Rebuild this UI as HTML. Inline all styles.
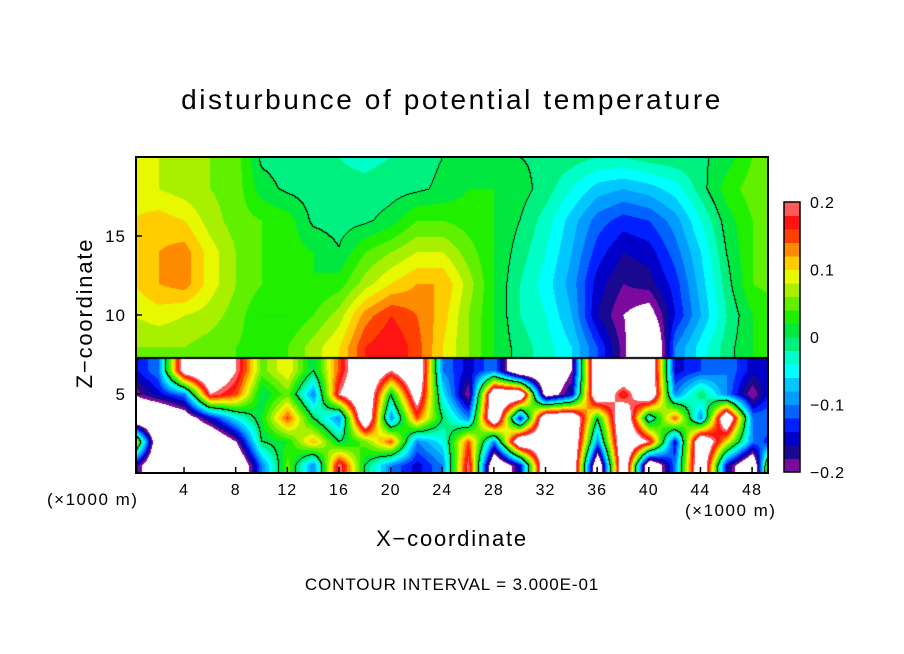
<!DOCTYPE html>
<html><head><meta charset="utf-8">
<style>
body{margin:0;background:#fff;}
#wrap{position:relative;width:904px;height:654px;overflow:hidden;font-family:"Liberation Sans",sans-serif;color:#000;}
.t{position:absolute;white-space:nowrap;}
</style></head>
<body>
<div id="wrap">
<div class="t" style="left:0;width:904px;text-align:center;top:84px;font-size:28px;letter-spacing:2.6px;">disturbunce of potential temperature</div>
<canvas id="cv" width="632" height="316" style="position:absolute;left:136px;top:157px;"></canvas>
<svg id="ov" width="904" height="654" style="position:absolute;left:0;top:0;"></svg>
<div class="t" style="left:47px;top:490px;font-size:17px;letter-spacing:1.5px;">(×1000 m)</div>
<div class="t" style="left:685px;top:501px;font-size:17px;letter-spacing:1.5px;">(×1000 m)</div>
<div class="t" style="left:0;width:904px;text-align:center;top:526px;font-size:22px;letter-spacing:1.8px;">X−coordinate</div>
<div class="t" style="left:85px;top:313px;font-size:22px;letter-spacing:1.8px;transform:translate(-50%,-50%) rotate(-90deg);">Z−coordinate</div>
<div class="t" style="left:0;width:904px;text-align:center;top:575px;font-size:17px;letter-spacing:0.9px;">CONTOUR INTERVAL = 3.000E-01</div>
</div>
<script>
const xCols=[0,2,4,6,8,10,12,14,16,18,20,22,24,26,28,30,32,34,36,38,40,42,44,46,48,50];
const upperZ=[8,10,12,14,16,18,20];
const upperVals=[
[.06,.06,.06,.05,.04,.03,.04,.07,.10,.16,.18,.15,.10,.06,.02,-.01,-.03,-.06,-.12,-.19,-.3,-.10,-.05,-.01,.02,.03],
[.08,.09,.08,.07,.05,.02,.02,.04,.07,.13,.16,.14,.11,.06,.02,-.02,-.04,-.08,-.16,-.20,-.22,-.14,-.08,-.02,.02,.03],
[.10,.12,.13,.09,.06,.04,.03,.02,.03,.07,.10,.12,.12,.07,.02,-.02,-.05,-.09,-.15,-.18,-.17,-.13,-.07,-.01,.04,.05],
[.11,.12,.13,.09,.06,.04,.03,.02,.002,.04,.06,.08,.08,.05,.02,-.01,-.04,-.08,-.13,-.16,-.15,-.11,-.06,.00,.04,.05],
[.10,.11,.10,.07,.05,.04,.03,-.005,-.01,-.005,.01,.04,.04,.03,.02,.00,-.03,-.07,-.11,-.13,-.12,-.09,-.04,.01,.04,.05],
[.09,.08,.07,.06,.05,.01,-.005,-.01,-.015,-.015,-.01,-.005,.005,.02,.02,.01,-.01,-.04,-.07,-.08,-.07,-.05,-.01,.03,.05,.05],
[.09,.08,.07,.06,.05,-.005,-.01,-.015,-.02,-.025,-.02,-.01,.00,.005,.01,.00,-.005,-.01,-.02,-.02,-.01,-.005,-.005,.01,.04,.05]];
const lowerZ=[0.5,2,3.5,5,6.5];
const lowerVals=[
[-.15,-.3,-.3,-.3,-.3,-.1,.05,-.1,.2,0,-.1,-.15,-.1,.2,-.3,-.15,.3,.3,-.3,.3,-.3,-.1,.3,-.15,-.3,.3],
[.15,-.3,-.3,-.3,-.2,0,.02,.12,0,.05,.15,-.1,-.05,.15,-.1,.3,.25,.3,-.1,.3,.2,-.15,.3,.1,-.1,-.15],
[-.3,-.3,-.25,-.15,-.05,.02,.15,0,-.1,.3,-.1,.15,0,-.1,.3,-.15,.3,.3,0,.3,-.05,.15,-.1,.3,-.1,-.1],
[-.2,-.15,-.1,.2,.15,0,.05,-.1,.2,.3,0,.25,-.05,-.2,.3,.3,-.25,-.15,.3,.15,.3,-.1,0,-.1,-.2,-.1],
[-.15,-.1,.25,.3,.2,.05,.1,0,.15,.3,.2,.3,-.1,-.15,-.1,-.3,-.3,-.2,.3,.3,.3,-.15,-.12,-.1,-.15,-.15]];
const xTicks=[4,8,12,16,20,24,28,32,36,40,44,48];
const zTicks=[5,10,15];
const cbTicks=[0.2,0.1,0,-0.1,-0.2];
const cbLabels=["0.2","0.1","0","−0.1","−0.2"];
const palette=["#7a0a9e","#1a0890","#0000c8","#0020ff","#0064ff","#009cff","#00c8ff","#00ffff","#00ffc8","#00f080","#00e840","#20f000","#60f000","#a8f000","#e8f800","#ffcc00","#ff8c00","#ff4000","#ff1414","#ff5a5a"];
palette.push("#ff9a9a");
const X=k=>132.4+k*12.91, Z=z=>473-z*15.8;
const zBoundary=7.28;
function interp(zs,vals,x,z){
  let i=Math.min(Math.max(Math.floor(x/2),0),xCols.length-2);
  let fx=Math.min(Math.max((x-xCols[i])/(xCols[i+1]-xCols[i]),0),1);
  let j=0; while(j<zs.length-2&&z>zs[j+1])j++;
  let fz=Math.min(Math.max((z-zs[j])/(zs[j+1]-zs[j]),0),1);
  const a=vals[j][i]*(1-fx)+vals[j][i+1]*fx, b=vals[j+1][i]*(1-fx)+vals[j+1][i+1]*fx;
  return a*(1-fz)+b*fz;
}
const cv=document.getElementById('cv'),ctx=cv.getContext('2d');
const W=632,H=316,img=ctx.createImageData(W,H);
const V=new Float32Array(W*H);
for(let py=0;py<H;py++)for(let px=0;px<W;px++){
  const x=(px+136-132.4)/12.91, z=(473-(py+157))/15.8;
  V[py*W+px]= z>=zBoundary?interp(upperZ,upperVals,x,z):interp(lowerZ,lowerVals,x,z);
}
const rgb=palette.map(h=>[parseInt(h.substr(1,2),16),parseInt(h.substr(3,2),16),parseInt(h.substr(5,2),16)]);
const bY=Math.round(Z(zBoundary)-157);
for(let py=0;py<H;py++)for(let px=0;px<W;px++){
  const v=V[py*W+px];let c=[255,255,255];
  const idx=Math.floor((v+0.2)/0.02);
  if(v>=-0.2&&v<=0.2)c=rgb[Math.min(idx,20)];
  const r=py*W+px;
  const s=v>=0;
  let edge=false;
  if(px<W-1&&((V[r+1]>=0)!==s))edge=true;
  if(py<H-1&&py+1!==bY&&py!==bY&&((V[r+W]>=0)!==s))edge=true;
  if(py===bY||py===bY-1)edge=true;
  if(edge)c=[0,0,0];
  const o=r*4;img.data[o]=c[0];img.data[o+1]=c[1];img.data[o+2]=c[2];img.data[o+3]=255;
}
ctx.putImageData(img,0,0);
const NS='http://www.w3.org/2000/svg',ov=document.getElementById('ov');
function mk(tag,at){const e=document.createElementNS(NS,tag);for(const k in at)e.setAttribute(k,at[k]);ov.appendChild(e);return e;}
let fr=mk('rect',{x:136,y:157,width:632,height:316,fill:'none',stroke:'#000','stroke-width':2});


xTicks.forEach(t=>{
  const l=mk('line',{x1:X(t),x2:X(t),y1:473,y2:467,stroke:'#000','stroke-width':1.5});
  
  
  const tx=mk('text',{x:X(t),y:495,'text-anchor':'middle','font-size':16,'letter-spacing':1,'font-family':'Liberation Sans, sans-serif'});
  tx.textContent=t;
  
  
});
zTicks.forEach(t=>{
  const l=mk('line',{x1:136,x2:142,y1:Z(t),y2:Z(t),stroke:'#000','stroke-width':1.5});
  
  
  const tx=mk('text',{x:126,y:Z(t)+6,'text-anchor':'end','font-size':17,'letter-spacing':1,'font-family':'Liberation Sans, sans-serif'});
  tx.textContent=t;
  
  
});
const cbTop=202,cbBot=472,cbH=(cbBot-cbTop)/20;
for(let i=0;i<20;i++){
  const r=mk('rect',{x:784,y:cbBot-(i+1)*cbH,width:16,height:cbH+0.5,fill:palette[i]});
  
  
}
const cbf=mk('rect',{x:784,y:cbTop,width:16,height:cbBot-cbTop,fill:'none',stroke:'#000','stroke-width':1.5});


cbTicks.forEach((t,i)=>{
  const y=cbBot-(t+0.2)/0.4*(cbBot-cbTop);
  const tx=mk('text',{x:810,y:y+6,'font-size':16,'letter-spacing':0.8,'font-family':'Liberation Sans, sans-serif'});
  tx.textContent=cbLabels[i];
  
  
});
</script>
</body></html>
